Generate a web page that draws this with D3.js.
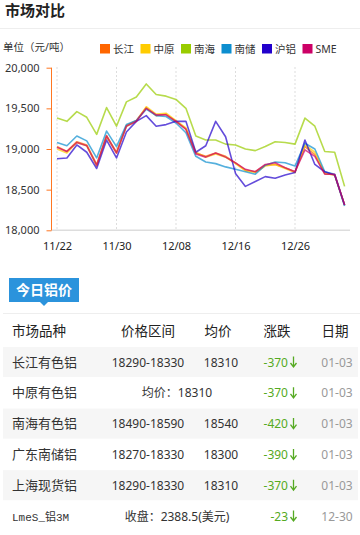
<!DOCTYPE html>
<html>
<head>
<meta charset="utf-8">
<script src="https://cdn.jsdelivr.net/npm/d3@7"></script>
<style>
  body { margin: 0; background: #fff; }
  text { font-family: "Noto Sans", "Noto Sans CJK SC", sans-serif; }
</style>
</head>
<body>
<script>
'use strict';

// dates on the x axis (one per trading day)
const dates = ["11/22","11/23","11/26","11/27","11/28","11/29","11/30",
  "12/03","12/04","12/05","12/06","12/07","12/08",
  "12/10","12/11","12/12","12/13","12/14","12/16",
  "12/17","12/18","12/19","12/20","12/21","12/26",
  "12/27","12/28","12/29","01/02","01/03"];
const tickDates = ["11/22", "11/30", "12/08", "12/16", "12/26"];
const yTicks = [18000, 18500, 19000, 19500, 20000];

const seriesNames = ["长江", "中原", "南海", "南储", "沪铝", "SME"];
const seriesColors = ["#ff6600", "#ffcc00", "#99cc00", "#0d8ecf", "#2200cc", "#cc0066"];

const changjiang = [19030,18970,19090,19050,18810,19165,18960,19290,19350,19510,19410,19430,19340,19250,18950,
  18910,18950,18910,18830,18740,18720,18800,18810,18770,18720,19030,18930,18700,18680,18310];
const zhongyuan = [19000,18950,19080,19040,18790,19150,18950,19280,19340,19520,19430,19440,19350,19260,18960,
  18900,18940,18900,18820,18730,18710,18790,18810,18760,18710,19050,18960,18700,18680,18310];
const nanhai = [19380,19340,19460,19390,19180,19510,19280,19580,19640,19800,19670,19650,19610,19500,19160,
  19110,19110,19060,19050,19000,18980,19030,19090,19080,19060,19380,19280,18970,18960,18540];
const nanchu = [19080,19040,19160,19100,18890,19220,19030,19300,19350,19490,19410,19400,19320,19200,18910,
  18840,18820,18780,18750,18720,18690,18800,18840,18830,18790,19070,19000,18720,18690,18300];
const hulv = [18880,18890,19050,18960,18760,19110,18890,19210,19340,19410,19280,19300,19340,19340,18960,
  19040,19340,19150,18700,18540,18600,18660,18640,18680,18710,19110,18810,18720,18680,18310];
const sme = [19020,18970,19080,19040,18800,19160,18950,19280,19340,19500,19420,19420,19340,19240,18940,
  18900,18950,18900,18830,18750,18720,18810,18830,18770,18720,18990,18910,18690,18690,18310];
const allSeries = [changjiang, zhongyuan, nanhai, nanchu, hulv, sme];

// today's price table
const tableHeader = ["市场品种", "价格区间", "均价", "涨跌", "日期"];
const marketNames = ["长江有色铝", "中原有色铝", "南海有色铝", "广东南储铝", "上海现货铝", "LmeS_铝3M"];
const priceRanges = ["18290-18330", "均价：18310", "18490-18590", "18270-18330", "18290-18330", "收盘：2388.5(美元)"];
const avgPrices = ["18310", "", "18540", "18300", "18310", ""];
const changes = ["-370", "-370", "-420", "-390", "-370", "-23"];
const rowDates = ["01-03", "01-03", "01-03", "01-03", "01-03", "12-30"];

const svg = d3.select('body').append('svg')
  .attr('width', 360)
  .attr('height', 535);

drawHeader();
drawChart();
drawTable();

function drawHeader() {
  svg.append('text')
    .attr('x', 5).attr('y', 16)
    .style('font-size', '15px').style('font-weight', 'bold')
    .attr('fill', '#222')
    .text('市场对比');

  svg.append('line')
    .attr('x1', 0).attr('x2', 360).attr('y1', 28.5).attr('y2', 28.5)
    .attr('stroke', '#eee');

  svg.append('text')
    .attr('x', 3).attr('y', 50.5)
    .style('font-size', '10.5px').attr('fill', '#333')
    .text('单位（元/吨）');

  // legend
  let legend = svg.selectAll('.legend')
    .data(seriesNames).enter()
    .append('g')
    .attr('transform', (d, i) => 'translate(' + (100 + i * 40.5) + ', 44)');
  legend.append('rect')
    .attr('width', 10).attr('height', 9.5)
    .attr('fill', (d, i) => seriesColors[i]);
  legend.append('text')
    .attr('x', 13).attr('y', 9)
    .style('font-size', '10.5px').attr('fill', '#333')
    .text(d => d);
}

function drawChart() {
  let x = d3.scalePoint()
    .domain(dates)
    .range([57, 344.6]);

  let y = d3.scaleLinear()
    .domain([18000, 20000])
    .range([230.3, 67.7]);

  // dotted grid at labelled dates
  svg.selectAll('.grid')
    .data(tickDates).enter()
    .append('line')
    .attr('x1', d => x(d)).attr('x2', d => x(d))
    .attr('y1', 67).attr('y2', 230)
    .attr('stroke', '#ddd')
    .attr('stroke-dasharray', '2,2');

  // x axis
  let xAxis = d3.axisBottom(x).tickValues(tickDates).tickSize(0).tickPadding(12);
  let gx = svg.append('g')
    .attr('transform', 'translate(0, 230.3)')
    .call(xAxis);
  gx.select('.domain').remove();
  gx.append('line')
    .attr('x1', 51).attr('x2', 350)
    .attr('stroke', '#ddd').attr('stroke-width', 1.5);
  gx.selectAll('text')
    .style('font-size', '11px')
    .style('font-family', '"Noto Sans", sans-serif')
    .attr('fill', '#222');

  // y axis
  let yAxis = d3.axisLeft(y)
    .tickValues(yTicks)
    .tickFormat(d3.format(','))
    .tickSize(5).tickPadding(7);
  let gy = svg.append('g')
    .attr('transform', 'translate(51.5, 0)')
    .call(yAxis);
  gy.select('.domain')
    .attr('stroke', '#ff7722')
    .attr('d', 'M0,' + y(20000) + 'V' + y(18000));
  gy.selectAll('.tick line').attr('stroke', '#ff7722');
  gy.selectAll('text')
    .style('font-size', '11px')
    .style('font-family', '"Noto Sans", sans-serif')
    .attr('fill', '#333');

  let line = d3.line()
    .x((d, i) => x(dates[i]))
    .y(d => y(d));

  svg.selectAll('.series')
    .data(allSeries).enter()
    .append('path')
    .attr('fill', 'none')
    .attr('stroke', (d, i) => seriesColors[i])
    .attr('stroke-opacity', 0.7)
    .attr('stroke-width', 1.6)
    .attr('stroke-linejoin', 'round')
    .attr('d', line);
}

function drawTable() {
  // blue tab
  svg.append('rect')
    .attr('x', 9).attr('y', 278)
    .attr('width', 70).attr('height', 24)
    .attr('fill', '#2b93dc');
  svg.append('path')
    .attr('d', 'M40,302 L44,306 L48,302 Z')
    .attr('fill', '#2b93dc');
  svg.append('text')
    .attr('x', 44).attr('y', 295)
    .attr('text-anchor', 'middle')
    .style('font-size', '14px').style('font-weight', 'bold')
    .attr('fill', '#fff')
    .text('今日铝价');

  svg.append('line')
    .attr('x1', 3).attr('x2', 360).attr('y1', 313.5).attr('y2', 313.5)
    .attr('stroke', '#eee');

  let headerX = [12, 148, 218, 277, 335];
  let headerAnchor = ['start', 'middle', 'middle', 'middle', 'middle'];
  svg.selectAll('.head')
    .data(tableHeader).enter()
    .append('text')
    .attr('x', (d, i) => headerX[i]).attr('y', 336)
    .attr('text-anchor', (d, i) => headerAnchor[i])
    .style('font-size', '13.5px')
    .attr('fill', '#222')
    .text(d => d);

  let rowY = i => 362 + i * 30.8;

  // striped row backgrounds
  svg.selectAll('.rowbg')
    .data(marketNames).enter()
    .filter((d, i) => i % 2 == 0)
    .append('rect')
    .attr('x', 3).attr('width', 355)
    .attr('y', (d, i) => rowY(i * 2) - 15).attr('height', 30)
    .attr('fill', '#f6f6f6');

  let rows = svg.selectAll('.row')
    .data(marketNames).enter()
    .append('g')
    .attr('transform', (d, i) => 'translate(0, ' + (rowY(i) + 4.5) + ')');

  rows.append('text')
    .attr('x', 12)
    .style('font-size', (d, i) => i == 5 ? '11px' : '13px')
    .style('font-family', (d, i) => i == 5 ? '"Liberation Mono", "Noto Sans CJK SC", monospace' : null)
    .attr('fill', '#333')
    .text(d => d);

  rows.append('text')
    .attr('x', (d, i) => avgPrices[i] ? 148 : 177)
    .attr('text-anchor', 'middle')
    .style('font-size', '12px').attr('fill', '#333')
    .text((d, i) => priceRanges[i]);

  rows.append('text')
    .attr('x', 221)
    .attr('text-anchor', 'middle')
    .style('font-size', '12px').attr('fill', '#333')
    .text((d, i) => avgPrices[i]);

  rows.append('text')
    .attr('x', 288)
    .attr('text-anchor', 'end')
    .style('font-size', '12px').attr('fill', '#55aa22')
    .text((d, i) => changes[i]);

  // down arrows
  rows.append('path')
    .attr('d', 'M293.5,-10 V0 M290.5,-3.5 L293.5,0.5 L296.5,-3.5')
    .attr('fill', 'none')
    .attr('stroke', '#55aa22').attr('stroke-width', 1.3);

  rows.append('text')
    .attr('x', 337)
    .attr('text-anchor', 'middle')
    .style('font-size', '12px').attr('fill', '#999')
    .text((d, i) => rowDates[i]);
}
</script>
</body>
</html>
